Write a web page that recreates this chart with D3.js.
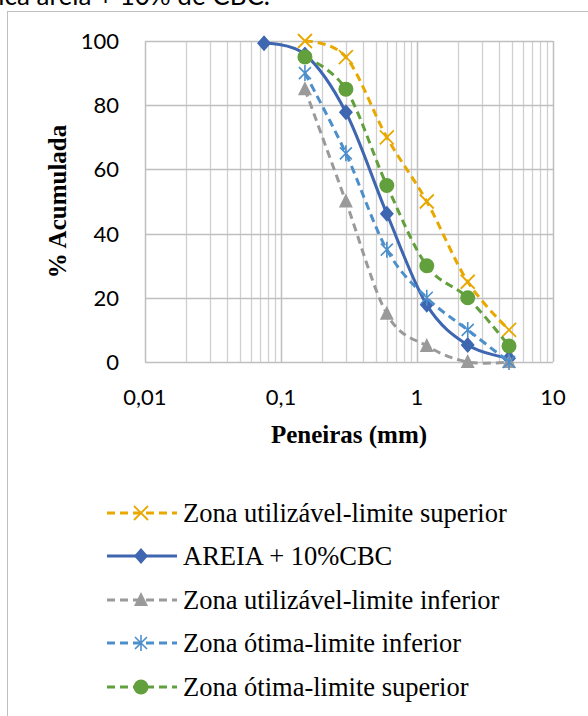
<!DOCTYPE html>
<html lang="pt">
<head>
    <meta charset="UTF-8">
    <title>Curva granulométrica areia + 10% de CBC</title>
    <script src="https://d3js.org/d3.v7.min.js"></script>
    <style>
        body { margin: 0; background: #fff; }
        .tick-label { font-family: Lato, "Open Sans", sans-serif; font-size: 22px; fill: #000; }
        .axis-title { font-family: "Liberation Serif", "Times New Roman", serif; font-weight: bold; font-size: 25px; fill: #000; }
        .legend-text { font-family: "Liberation Serif", "Times New Roman", serif; font-size: 26.5px; fill: #000; }
    </style>
</head>
<body>
<script>
// Sieve openings (mm) and accumulated % retained
const sieves = [0.075, 0.15, 0.3, 0.6, 1.18, 2.36, 4.75];
const limitSieves = [0.15, 0.3, 0.6, 1.18, 2.36, 4.75];

const utilSup = [100, 95, 70, 50, 25, 10];
const areiaCBC = [99.3, 95.8, 77.8, 46.2, 17.8, 5.3, 1.2];
const utilInf = [85, 50, 15, 5, 0, 0];
const otimaInf = [90, 65, 35, 20, 10, 0];
const otimaSup = [95, 85, 55, 30, 20, 5];

const xTicks = [0.01, 0.1, 1, 10];
const yTicks = [0, 20, 40, 60, 80, 100];

const seriesNames = [
    "Zona utiliz\u00e1vel-limite superior",
    "AREIA + 10%CBC",
    "Zona utiliz\u00e1vel-limite inferior",
    "Zona \u00f3tima-limite inferior",
    "Zona \u00f3tima-limite superior"
];

const W = 588, H = 716;
const plot = {left: 145, right: 553, top: 41, bottom: 362};

const svg = d3.select("body").append("svg")
    .attr("width", W)
    .attr("height", H);

// chart frame (continues past the window)
svg.append("rect")
    .attr("x", 7.5).attr("y", 11.5)
    .attr("width", 700).attr("height", 800)
    .attr("fill", "none").attr("stroke", "#bfbfbf").attr("stroke-width", 1);

// title, partly cut at the top as in the original
svg.append("text")
    .attr("x", 270).attr("y", 5)
    .attr("text-anchor", "end")
    .style("font-family", "Lato, 'Open Sans', sans-serif")
    .style("font-size", "26px")
    .text("Curva granulom\u00e9trica areia + 10% de CBC.");

const x = d3.scaleLog().domain([0.01, 10]).range([plot.left, plot.right]);
const y = d3.scaleLinear().domain([0, 100]).range([plot.bottom, plot.top]);

// grid
const grid = svg.append("g");
const minor = [];
for (let d = 0.01; d < 10; d *= 10) {
    for (let k = 2; k <= 9; k++) minor.push(d * k);
}
grid.selectAll(".vminor").data(minor).join("line")
    .attr("x1", d => Math.round(x(d)) + 0.5).attr("x2", d => Math.round(x(d)) + 0.5)
    .attr("y1", plot.top).attr("y2", plot.bottom)
    .attr("stroke", "#d0d0d0").attr("stroke-width", 1.3);
grid.selectAll(".vmajor").data(xTicks).join("line")
    .attr("x1", d => Math.round(x(d)) + 0.5).attr("x2", d => Math.round(x(d)) + 0.5)
    .attr("y1", plot.top).attr("y2", plot.bottom)
    .attr("stroke", "#bfbfbf").attr("stroke-width", 1.5);
grid.selectAll(".hmajor").data(yTicks).join("line")
    .attr("x1", plot.left).attr("x2", plot.right)
    .attr("y1", d => Math.round(y(d)) + 0.5).attr("y2", d => Math.round(y(d)) + 0.5)
    .attr("stroke", "#bfbfbf").attr("stroke-width", 1.5);

// tick labels
svg.selectAll(".ylab").data(yTicks).join("text")
    .attr("class", "tick-label")
    .attr("x", 119).attr("y", d => y(d) + 8)
    .attr("text-anchor", "end")
    .text(d => d);
svg.selectAll(".xlab").data(xTicks).join("text")
    .attr("class", "tick-label")
    .attr("x", d => x(d)).attr("y", 405)
    .attr("text-anchor", "middle")
    .text(d => String(d).replace(".", ","));

// axis titles
svg.append("text").attr("class", "axis-title")
    .attr("x", (plot.left + plot.right) / 2).attr("y", 443)
    .attr("text-anchor", "middle")
    .text("Peneiras (mm)");
svg.append("text").attr("class", "axis-title")
    .attr("transform", `translate(66,${(plot.top + plot.bottom) / 2}) rotate(-90)`)
    .attr("text-anchor", "middle")
    .text("% Acumulada");

// markers
function drawMarker(g, type, color) {
    if (type === "x") {
        g.append("path").attr("d", "M-7,-7L7,7M-7,7L7,-7")
            .attr("stroke", color).attr("stroke-width", 1.8).attr("fill", "none");
    } else if (type === "star") {
        g.append("path").attr("d", "M-6,-6L6,6M-6,6L6,-6M0,-8L0,8")
            .attr("stroke", color).attr("stroke-width", 1.6).attr("fill", "none");
    } else if (type === "diamond") {
        g.append("path").attr("d", "M0,-8L7,0L0,8L-7,0Z").attr("fill", color);
    } else if (type === "triangle") {
        g.append("path").attr("d", "M0,-8L7,6L-7,6Z").attr("fill", color);
    } else if (type === "circle") {
        g.append("circle").attr("r", 7.5).attr("fill", color);
    }
}

const series = [
    {name: seriesNames[0], xs: limitSieves, ys: utilSup, color: "#e8a800", dash: "8,5", marker: "x"},
    {name: seriesNames[1], xs: sieves, ys: areiaCBC, color: "#3f66b1", dash: null, marker: "diamond"},
    {name: seriesNames[2], xs: limitSieves, ys: utilInf, color: "#9a9a9a", dash: "8,5", marker: "triangle"},
    {name: seriesNames[3], xs: limitSieves, ys: otimaInf, color: "#4d8fcb", dash: "8,5", marker: "star"},
    {name: seriesNames[4], xs: limitSieves, ys: otimaSup, color: "#61a03c", dash: "8,5", marker: "circle"}
];

const line = d3.line()
    .x(d => x(d[0]))
    .y(d => y(d[1]))
    .curve(d3.curveCatmullRom.alpha(0));

series.forEach(s => {
    const pts = s.xs.map((v, i) => [v, s.ys[i]]);
    const g = svg.append("g");
    g.append("path")
        .attr("d", line(pts))
        .attr("fill", "none")
        .attr("stroke", s.color)
        .attr("stroke-width", 3)
        .attr("stroke-dasharray", s.dash);
    pts.forEach(p => {
        drawMarker(g.append("g").attr("transform", `translate(${x(p[0])},${y(p[1])})`), s.marker, s.color);
    });
});

// legend
const legendY = [513, 556, 600, 643, 687];
const legend = svg.append("g");
series.forEach((s, i) => {
    const g = legend.append("g").attr("transform", `translate(0,${legendY[i]})`);
    g.append("line")
        .attr("x1", 107).attr("x2", 177).attr("y1", 0).attr("y2", 0)
        .attr("stroke", s.color).attr("stroke-width", 3)
        .attr("stroke-dasharray", s.dash ? "8,5" : null);
    drawMarker(g.append("g").attr("transform", "translate(141,0)"), s.marker, s.color);
    g.append("text").attr("class", "legend-text")
        .attr("x", 183).attr("y", 9).text(s.name);
});
</script>
</body>
</html>
